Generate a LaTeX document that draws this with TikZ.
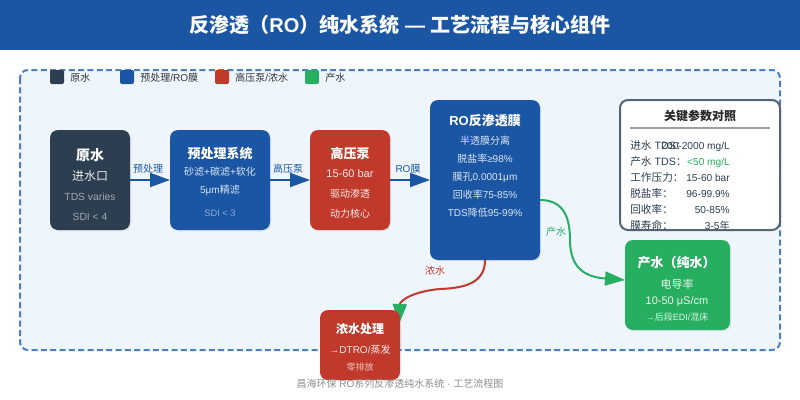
\documentclass[tikz,border=0pt]{standalone}
\usepackage{fontspec}
\setmainfont{Liberation Sans}
\newfontfamily\cjk{Noto Sans CJK SC}
\newcommand{\zh}[1]{{\cjk #1}}
\usetikzlibrary{arrows.meta,shadows}
\definecolor{rawc}{HTML}{2C3E50}
\definecolor{bluec}{HTML}{1A56A4}
\definecolor{redc}{HTML}{C0392B}
\definecolor{greenc}{HTML}{27AE60}
\definecolor{framec}{HTML}{4A7FC1}
\definecolor{panelc}{HTML}{EEF5FD}
\tikzset{
  fs/.style={font=\fontsize{#1}{#1}\selectfont},
  fb/.style={font=\fontsize{#1}{#1}\selectfont\bfseries},
  box/.style={rounded corners=6pt,inner sep=0pt,outer sep=0pt,
    drop shadow={opacity=0.12,shadow xshift=1pt,shadow yshift=-1pt}},
  swatch/.style={rounded corners=1.5pt,inner sep=0pt,outer sep=0pt,
    minimum width=10.5pt,minimum height=10.5pt},
  flow/.style={bluec,line width=1.5pt,-{Triangle[length=15pt,width=10.5pt]}},
  flowlabel/.style={fs=7.5,text=bluec,inner sep=0pt},
  legendtext/.style={fs=7.5,inner sep=0pt,anchor=west,text=black!80},
  keytext/.style={fs=8,inner sep=0pt,anchor=base west,text=rawc},
  valtext/.style={fs=7.6,inner sep=0pt,anchor=base east,text=rawc},
}
\begin{document}
\begin{tikzpicture}[x=0.75pt,y=-0.75pt]
\useasboundingbox (0,0) rectangle (800,400);

%header and frame
  \fill[bluec] (0,0) rectangle (800,50);
  \node[fb=15,text=white,inner sep=0pt] (title) at (400,25) {\zh{反渗透（}RO\zh{）纯水系统} — \zh{工艺流程与核心组件}};
  \draw[framec,fill=panelc,line width=1.5pt,dash pattern=on 4.5pt off 2.5pt,rounded corners=6pt] (20,70) rectangle (780,350);

%legend
  \foreach \n/\x/\c in {a/57/rawc, b/127/bluec, c/222/redc, d/312/greenc}
    \node[swatch,fill=\c] (sw\n) at (\x,77) {};
  \node[legendtext] (lega) at (70,78) {\zh{原水}};
  \node[legendtext] (legb) at (140,78) {\zh{预处理}/RO\zh{膜}};
  \node[legendtext] (legc) at (235,78) {\zh{高压泵}/\zh{浓水}};
  \node[legendtext] (legd) at (325,78) {\zh{产水}};

%concentrate line goes under the box
  \coordinate (brineend) at (399,324);
  \draw[redc,line width=1.5pt,-{Triangle[length=15pt,width=10.5pt,color=greenc,fill=greenc]}]
    (485,260) .. controls (485,283) and (465,288) .. (440,289) .. controls (415,291) and (400,300) .. (brineend);

%boxes
  \node[box,fill=rawc,minimum width=60pt,minimum height=75pt] (raw) at (90,180) {};
  \node[box,fill=bluec,minimum width=75pt,minimum height=75pt] (pre) at (220,180) {};
  \node[box,fill=redc,minimum width=60pt,minimum height=75pt] (pump) at (350,180) {};
  \node[box,fill=bluec,minimum width=82.5pt,minimum height=120pt] (ro) at (485,180) {};
  \node[box,fill=greenc,minimum width=78.75pt,minimum height=67.5pt] (product) at (677.5,285) {};
  \node[box,fill=redc,minimum width=60pt,minimum height=52.5pt] (brine) at (360,345) {};
  \node[draw=rawc!80,fill=white,line width=1.5pt,rounded corners=6pt,inner sep=0pt,outer sep=0pt,minimum width=120pt,minimum height=97.5pt] (params) at (700,165) {};

%raw water text
  \node[fb=10.5,text=white,inner sep=0pt] (raw1) at (90,155) {\zh{原水}};
  \node[fs=9,text=white!90!rawc,inner sep=0pt] (raw2) at (90,176) {\zh{进水口}};
  \node[fs=7.75,text=white!55!rawc,inner sep=0pt] (raw3) at (90,197) {TDS varies};
  \node[fs=7.75,text=white!55!rawc,inner sep=0pt] (raw4) at (90,217) {SDI < 4};

%pretreatment text
  \node[fb=9.75,text=white,inner sep=0pt] (pre1) at (220,153.5) {\zh{预处理系统}};
  \node[fs=7.5,text=white!85!bluec,inner sep=0pt] (pre2) at (220,172) {\zh{砂滤}+\zh{碳滤}+\zh{软化}};
  \node[fs=7.5,text=white!85!bluec,inner sep=0pt] (pre3) at (220,190) {5μm\zh{精滤}};
  \node[fs=7,text=white!50!bluec,inner sep=0pt] (pre4) at (220,213) {SDI < 3};

%pump text
  \node[fb=9.75,text=white,inner sep=0pt] (pump1) at (350,153.5) {\zh{高压泵}};
  \node[fs=8.25,text=white!90!redc,inner sep=0pt] (pump2) at (350,174) {15-60 bar};
  \node[fs=7.5,text=white!90!redc,inner sep=0pt] (pump3) at (350,194) {\zh{驱动渗透}};
  \node[fs=7.5,text=white!90!redc,inner sep=0pt] (pump4) at (350,214) {\zh{动力核心}};

%membrane text
  \node[fb=9.75,text=white,inner sep=0pt] (ro1) at (485,120.5) {RO\zh{反渗透膜}};
  \node[fs=7.5,text=white!85!bluec,inner sep=0pt] (ro2) at (485,141) {\zh{半透膜分离}};
  \node[fs=7.5,text=white!85!bluec,inner sep=0pt] (ro3) at (485,159) {\zh{脱盐率}≥98\%};
  \node[fs=7.5,text=white!85!bluec,inner sep=0pt] (ro4) at (485,177) {\zh{膜孔}0.0001μm};
  \node[fs=7.5,text=white!85!bluec,inner sep=0pt] (ro5) at (485,195) {\zh{回收率}75-85\%};
  \node[fs=7.5,text=white!85!bluec,inner sep=0pt] (ro6) at (485,213) {TDS\zh{降低}95-99\%};

%product text
  \node[fb=9.75,text=white,inner sep=0pt] (product1) at (676.5,263) {\zh{产水（纯水）}};
  \node[fs=8.25,text=white!90!greenc,inner sep=0pt] (product2) at (677,284) {\zh{电导率}};
  \node[fs=8.25,text=white!90!greenc,inner sep=0pt] (product3) at (677,302) {10-50 μS/cm};
  \node[fs=6.75,text=white!85!greenc,inner sep=0pt] (product4) at (677,317) {→\zh{后段}EDI/\zh{混床}};

%concentrate text
  \node[fb=9,text=white,inner sep=0pt] (brine1) at (360,328.5) {\zh{浓水处理}};
  \node[fs=7.5,text=white!90!redc,inner sep=0pt] (brine2) at (360,350) {→DTRO/\zh{蒸发}};
  \node[fs=6.75,text=white!70!redc,inner sep=0pt] (brine3) at (360,367) {\zh{零排放}};

%parameter table
  \node[fb=9,inner sep=0pt,text=black!85] (paramtitle) at (700,116) {\zh{关键参数对照}};
  \coordinate (rulea) at (630,128);
  \coordinate (ruleb) at (770,128);
  \draw[rawc!50,line width=1.5pt] (rulea) -- (ruleb);
  \node[keytext] (keya) at (630,149) {\zh{进水} TDS\zh{：}};
  \node[keytext] (keyb) at (630,165) {\zh{产水} TDS\zh{：}};
  \node[keytext] (keyc) at (630,181) {\zh{工作压力：}};
  \node[keytext] (keyd) at (630,197) {\zh{脱盐率：}};
  \node[keytext] (keye) at (630,213) {\zh{回收率：}};
  \node[keytext] (keyf) at (630,229) {\zh{膜寿命：}};
  \node[valtext] (vala) at (730,149) {200-2000 mg/L};
  \node[valtext,text=greenc] (valb) at (730,165) {<50 mg/L};
  \node[valtext] (valc) at (730,181) {15-60 bar};
  \node[valtext] (vald) at (730,197) {96-99.9\%};
  \node[valtext] (vale) at (730,213) {50-85\%};
  \node[valtext] (valf) at (730,229) {3-5\zh{年}};

%connectors
  \draw[flow] (raw.east) -- (pre.west);
  \draw[flow] (pre.east) -- (pump.west);
  \draw[flow] (pump.east) -- (ro.west);
  \coordinate (roout) at (540,200);
  \coordinate (productin) at (625,280);
  \draw[greenc,line width=1.5pt,-{Triangle[length=15pt,width=10.5pt]}]
    (roout) .. controls (562,200) and (570,215) .. (570,240) .. controls (570,268) and (585,277) .. (productin);

%connector labels
  \node[flowlabel] (lab1) at (148,169) {\zh{预处理}};
  \node[flowlabel] (lab2) at (288,169) {\zh{高压泵}};
  \node[flowlabel] (lab3) at (408,169) {RO\zh{膜}};
  \node[fs=7.5,text=greenc,inner sep=0pt] (lab4) at (556,232) {\zh{产水}};
  \node[fs=7.5,text=redc,inner sep=0pt] (lab5) at (435,271) {\zh{浓水}};

%footer
  \node[fs=7.5,text=black!45,inner sep=0pt] (footer) at (400,384) {\zh{昌海环保} RO\zh{系列反渗透纯水系统} · \zh{工艺流程图}};
\end{tikzpicture}
\end{document}
